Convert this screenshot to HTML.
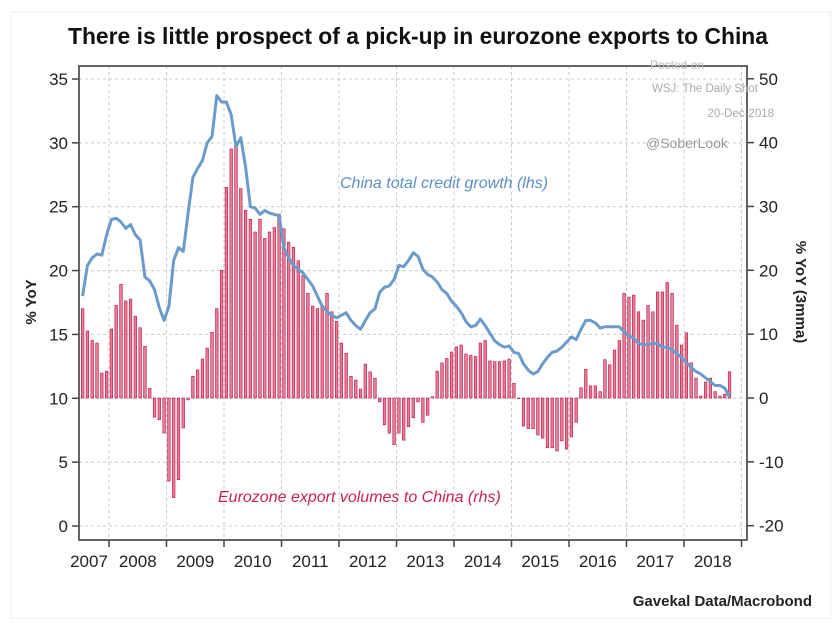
<!DOCTYPE html>
<html><head><meta charset="utf-8"><style>
html,body{margin:0;padding:0;background:#fff;}
svg{display:block;font-family:"Liberation Sans",sans-serif;}
</style></head><body>
<svg id="chart" width="840" height="626" viewBox="0 0 840 626">
<rect x="11" y="12" width="820" height="606" fill="#fff" stroke="#eee"/>
<text x="418" y="44" text-anchor="middle" font-size="23" font-weight="bold" fill="#111" textLength="700" lengthAdjust="spacingAndGlyphs">There is little prospect of a pick-up in eurozone exports to China</text>
<g id="grid"></g>
<g id="bars"></g>
<path id="line" fill="none" stroke="#6b9bcb" stroke-width="3" stroke-linejoin="round"/>
<g id="axes"></g>
<text x="650" y="69" font-size="12" fill="#bbb">Posted on</text>
<text x="652" y="92" font-size="11.5" fill="#aaa">WSJ: The Daily Shot</text>
<text x="774" y="117" font-size="11.5" fill="#aaa" text-anchor="end">20-Dec-2018</text>
<text x="646" y="148" font-size="14" fill="#999">@SoberLook</text>
<text x="340" y="188" font-size="16" font-style="italic" fill="#5b8fc6">China total credit growth (lhs)</text>
<text x="218" y="502" font-size="16" font-style="italic" fill="#c8244f">Eurozone export volumes to China (rhs)</text>
<text transform="translate(36,302) rotate(-90)" text-anchor="middle" font-size="15" font-weight="bold" fill="#222">% YoY</text>
<text transform="translate(796,292) rotate(90)" text-anchor="middle" font-size="15" font-weight="bold" fill="#222">% YoY (3mma)</text>
<text x="812" y="606" text-anchor="end" font-size="15" font-weight="bold" fill="#222">Gavekal Data/Macrobond</text>
</svg>
<script>
const years=[2007,2008,2009,2010,2011,2012,2013,2014,2015,2016,2017,2018];
const leftTicks=[0,5,10,15,20,25,30,35];
const rightTicks=[-20,-10,0,10,20,30,40,50];
const startYear=2007, startMonth=7;
const exportsRhs=[14,10.5,9,8.6,3.9,4.2,
10.8,14.5,17.8,15.2,15.5,12.8,11,8.1,1.5,-3,-3.4,-5.5,
-13,-15.6,-12.8,-4.7,-0.3,3.4,4.4,6.1,7.8,10.3,14,20,
33,39,39.5,32.8,29.4,28,26,28,25,26,26.7,28.8,
26.5,24.4,23.6,21.5,19.2,16.4,14.4,14,14.5,16.4,13.5,12,
8.6,7,3.4,2.8,1.4,5.3,4.1,3.1,-0.6,-4.2,-5.5,-7.3,
-5.5,-6.6,-4.5,-3.1,-0.6,-3.8,-2.7,0.2,4.2,5.5,6.2,7.2,
8,8.3,6.9,6.7,6.5,8.6,9,5.8,5.7,5.7,5.8,6.1,
2.3,0,-4.4,-4.8,-4.8,-5.8,-6.3,-7.8,-7.8,-8.3,-6.7,-8,
-6.1,-3.8,1.6,4.5,1.9,1.9,1,6,5.2,7.5,9,16.4,
15.8,16.1,13.5,12.2,14.5,13.5,16.6,16.6,18.1,16.4,11.4,8.3,
10.2,5.5,3.1,0.3,2.5,3.1,1,0.3,0.6,4.1];
const creditLhs=[18,20.4,21,21.3,21.2,22.8,
24,24.1,23.8,23.3,23.6,22.8,22.4,19.5,19.2,18.5,17.1,16.1,
17.2,20.8,21.8,21.5,24.5,27.3,28,28.6,30,30.5,33.7,33.2,
33.2,32.2,29.7,30.4,28.1,25,24.9,24.4,24.7,24.5,24.4,24.3,
21.8,21,20.4,20.1,19.8,19.3,18.8,18,17.2,16.8,16.5,16.3,
16.5,16.7,16.1,15.7,15.4,16.1,16.7,17,18.3,18.7,18.8,19.3,
20.4,20.3,20.8,21.4,21.1,20.1,19.7,19.5,19.1,18.5,18.2,17.6,
17.2,16.7,16,15.6,15.7,16.2,15.7,15.1,14.5,14.2,14,14.1,
13.6,13.5,12.7,12.2,11.9,12.1,12.7,13.2,13.6,13.7,14,14.4,
14.8,14.6,15.4,16.1,16.1,15.9,15.5,15.6,15.6,15.6,15.6,15.2,
14.9,14.7,14.3,14.2,14.2,14.3,14.3,14,14,13.8,13.5,13.2,
12.8,12.4,12.1,11.9,11.6,11.3,11,11,10.8,10.1];

const NS="http://www.w3.org/2000/svg";
const PL=79,PR=747,PT=66,PB=540;
const yL=v=>526-(v/35)*(526-79);
const yR=v=>398-(v/10)*63.85;
const xT=t=>51.5+(t-2007)*57.5;
const xM=i=>{const m=startMonth-1+i;return xT(startYear+(m+0.5)/12);};
function mk(tag,attrs,parent){const e=document.createElementNS(NS,tag);for(const k in attrs)e.setAttribute(k,attrs[k]);parent.appendChild(e);return e;}
const grid=document.getElementById('grid'),axes=document.getElementById('axes'),bars=document.getElementById('bars');
leftTicks.forEach(v=>{
  const y=yL(v);
  const g=mk('line',{x1:PL,x2:PR,y1:y,y2:y,stroke:'#c8c8c8','stroke-dasharray':'3,3'},grid);
  
  
  const t=mk('line',{x1:PL-7,x2:PL,y1:y,y2:y,stroke:'#444','stroke-width':1.5},axes);
  
  
  const tx=mk('text',{x:PL-11,y:y+6,'text-anchor':'end','font-size':17,fill:'#222'},axes);
  tx.textContent=v;
  
  
});
rightTicks.forEach(v=>{
  const y=yR(v);
  const t=mk('line',{x1:PR,x2:PR+7,y1:y,y2:y,stroke:'#444','stroke-width':1.5},axes);
  
  
  const tx=mk('text',{x:PR+12,y:y+6,'font-size':17,fill:'#222'},axes);
  tx.textContent=v;
  
  
});
years.forEach(yr=>{
  const xb=xT(yr+1);
  if(xb<PR-2){
    const g=mk('line',{x1:xb,x2:xb,y1:PT,y2:PB,stroke:'#c8c8c8','stroke-dasharray':'3,3'},grid);
    
    
  }
  const t=mk('line',{x1:xb,x2:xb,y1:PB,y2:PB+7,stroke:'#444','stroke-width':1.5},axes);
  
  
  const xc=Math.max(xT(yr+0.5),89);
  const tx=mk('text',{x:xc,y:567,'text-anchor':'middle','font-size':17,fill:'#222'},axes);
  tx.textContent=yr;
  
  
});
const fr=mk('rect',{x:PL,y:PT,width:PR-PL,height:PB-PT,fill:'none',stroke:'#555','stroke-width':1.8},axes);


exportsRhs.forEach((v,i)=>{
  const x=xM(i),y0=yR(0),y1=yR(v);
  const r=mk('rect',{x:x-1.3,y:Math.min(y0,y1),width:2.6,height:Math.max(0.5,Math.abs(y1-y0)),fill:'#ea7c98',stroke:'#b5143f','stroke-width':0.6},bars);
  
  
});
document.getElementById('line').setAttribute('d',creditLhs.map((v,i)=>(i?'L':'M')+xM(i).toFixed(1)+','+yL(v).toFixed(1)).join(''));
</script>
</body></html>
